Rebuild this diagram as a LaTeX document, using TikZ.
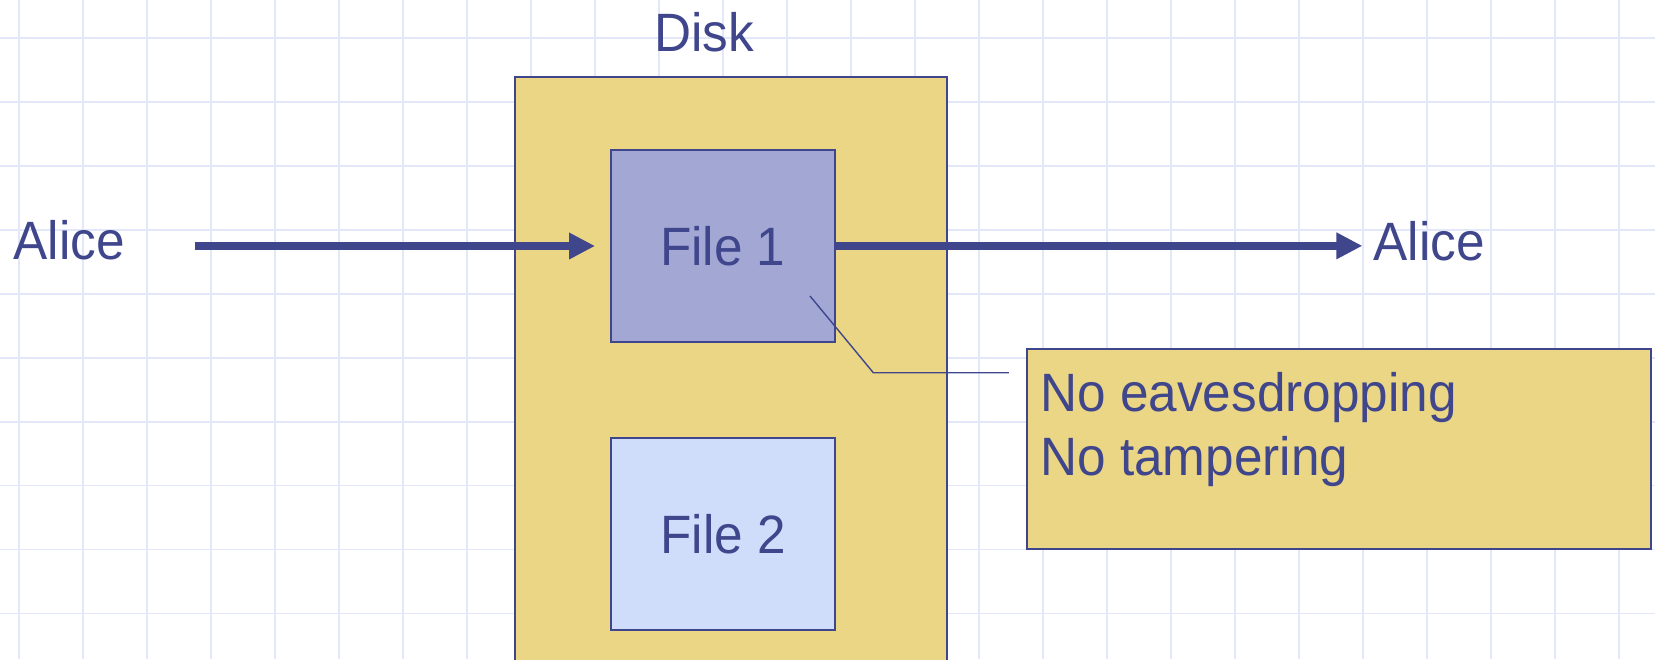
\documentclass[tikz,border=0pt]{standalone}
\usepackage{fontspec}
\setmainfont{Liberation Sans}[FakeStretch=0.95]
\usetikzlibrary{arrows.meta}
\definecolor{ink}{RGB}{64,70,140}
\definecolor{gridc}{RGB}{226,231,250}
\definecolor{diskc}{RGB}{234,214,132}
\definecolor{fileA}{RGB}{162,167,212}
\definecolor{fileB}{RGB}{207,220,250}
\begin{document}
\begin{tikzpicture}[x=0.5pt,y=-0.5pt,
  lbl/.style={text=ink,font=\fontsize{27}{32}\selectfont,inner sep=0pt},
  box/.style={draw=ink,line width=0.85pt,inner sep=0pt,text=ink,font=\fontsize{27}{32}\selectfont},
  conn/.style={draw=ink,line width=3.85pt,-{Triangle[length=13pt,width=12.5pt]}},
  leader/.style={draw=ink,line width=0.7pt},
  gridline/.style={draw=gridc,line width=0.9pt}]
\useasboundingbox (0,0) rectangle (1655,659);
\begin{scope}
\clip (0,0) rectangle (1655,659);
\fill[white] (0,0) rectangle (1655,659);
\foreach \k in {0,...,25} \draw[gridline] ({18.7+64*\k},0) -- ({18.7+64*\k},659);
\foreach \k in {0,...,9} \draw[gridline] (0,{37.9+63.95*\k}) -- (1655,{37.9+63.95*\k});
% disk
\node[box,fill=diskc,minimum width=216pt,minimum height=311.5pt] (disk) at (730.7,388.5) {};
\end{scope}
% files
\node[box,fill=fileA,minimum width=112.15pt,minimum height=95.85pt] (file1) at (722.85,245.85) {File 1};
\node[box,fill=fileB,minimum width=112.2pt,minimum height=96pt] (file2) at (723,533.85) {File 2};
% labels
\node[lbl,anchor=base west] (aliceL) at (13,259.5) {Alice};
\node[lbl,anchor=base] (disklbl) at (704,51.7) {Disk};
\node[lbl,anchor=base west] (aliceR) at (1373,260) {Alice};
% arrows
\coordinate (a1start) at (195,246);
\draw[conn,shorten >=7.4pt] (a1start) -- (a1start -| file1.west);
\draw[conn,shorten >=5.3pt] (file1.east) -- (file1.east -| aliceR.west);
% leader line
\coordinate (lstart) at (810,296);
\coordinate (lbend) at (873.3,372.7);
\coordinate (lend) at (1008.8,372.7);
\draw[leader] (lstart) -- (lbend) -- (lend);
% note
\node[box,fill=diskc,minimum width=311.9pt,minimum height=100pt] (note) at (1339.1,449) {};
\node[lbl,anchor=base west] (n1) at (1040,411.7) {No eavesdropping};
\node[lbl,anchor=base west] (n2) at (1040,475.7) {No tampering};
\end{tikzpicture}
\end{document}
